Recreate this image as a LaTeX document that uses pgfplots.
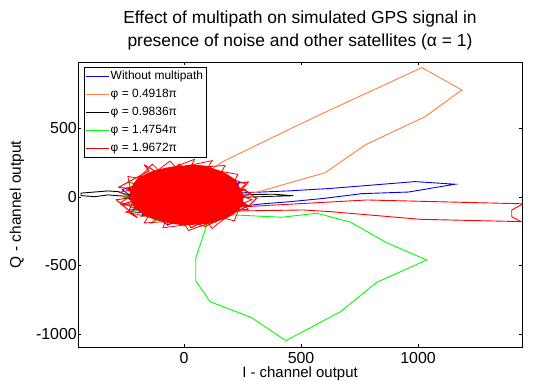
\documentclass[border=0pt]{standalone}
\usepackage{fontspec}
\setmainfont{Liberation Sans}
\usepackage{pgfplots}
\pgfplotsset{compat=1.18}
\definecolor{morange}{RGB}{255,128,64}
\definecolor{mgreen}{RGB}{0,255,0}
\definecolor{mblue}{RGB}{0,0,255}
\definecolor{mred}{RGB}{255,0,0}
\definecolor{mblack}{RGB}{0,0,0}
\begin{document}
\begin{tikzpicture}
\useasboundingbox (-78bp,-34bp) rectangle (455bp,347bp);
\begin{axis}[
 scale only axis, width=444bp, height=285bp,
 xmin=-453, xmax=1444, ymin=-1095, ymax=985,
 xtick={0,500,1000}, ytick={-1000,-500,0,500},
 tick align=inside, major tick length=3bp,
 axis line style={line width=0.9pt},
 tick style={black, line width=0.5pt},
 /pgf/number format/assume math mode=true,
 /pgf/number format/1000 sep={},
 ticklabel style={font=\fontsize{16}{18}\selectfont},
 xticklabel style={inner sep=0pt, yshift=-5.5bp},
 yticklabel style={inner sep=1bp},
 xlabel={I - channel output}, ylabel={Q - channel output},
 label style={font=\fontsize{15.5}{17}\selectfont},
 xlabel style={font=\fontsize{15}{17}\selectfont, at={(axis description cs:0.5,-0.1070)}, anchor=base, inner sep=0pt},
 ylabel style={at={(axis description cs:-0.1374,0.5)}, anchor=center, inner sep=0pt},
 title={Effect of multipath on simulated GPS signal in\\presence of noise and other satellites (α = 1)},
 title style={font=\fontsize{17.5}{23}\selectfont, align=center, at={(axis description cs:0.5,1.021)}, anchor=south, inner sep=0pt},
 legend style={at={(axis description cs:0.0125,0.9825)}, anchor=north west, font=\fontsize{12}{14}\selectfont, draw=black, line width=0.6pt, inner sep=1.5bp, row sep=3bp, nodes={inner sep=1.5bp, text height=9bp, text depth=3bp}},
 legend cell align=left,
 legend image code/.code={\draw[#1] (0bp,0bp) -- (23bp,0bp);},
]
% ---- blue ----
\addplot[draw=mblue, line width=0.8pt, forget plot] coordinates {
(175,134) (-137,182) (-213,-44) (0,-190) (264,-54) (111,147) (-175,134) (-236,-105) (57,-164) (247,0) (71,203) (-191,85) (-175,-134) (137,-182) (213,44) (0,190) (-264,54) (-111,-147) (175,-134) (236,105) (-57,164) (-247,0) (-71,-203) (191,-85)
};
\addplot[draw=mblue, line width=0.9pt] coordinates {
(150,10) (231,29) (444,44) (624,62) (987,112) (1158,93) (959,36) (759,24) (600,-10) (450,-35) (330,-51) (231,-71) (150,-40)
};
\addlegendentry{Without multipath}
% ---- orange ----
\addplot[draw=morange, line width=0.8pt, forget plot] coordinates {
(-187,-145) (207,92) (-269,-56) (265,0) (-230,48) (241,-108) (-187,145) (119,-160) (-72,208) (0,-205) (62,178) (-139,-186) (187,145) (-207,-92) (269,56) (-265,0) (230,-48) (-241,108) (187,-145) (-119,160) (72,-208) (0,205) (-62,-178) (139,186)
};
\addplot[draw=morange, line width=0.9pt] coordinates {
(60,120) (103,182) (162,255) (444,489) (624,635) (1016,944) (1187,781) (1030,586) (774,380) (603,177) (303,31) (200,20)
};
\addlegendentry{φ = 0.4918π}
% ---- black ----
\addplot[draw=mblack, line width=0.8pt, forget plot] coordinates {
(-255,0) (56,-160) (210,93) (-180,138) (-108,-144) (234,-48) (0,195) (-209,-43) (121,-160) (180,138) (-188,83) (-63,-179) (255,0) (-56,160) (-210,-93) (180,-138) (108,144) (-234,48) (0,-195) (209,43) (-121,160) (-180,-138) (188,-83) (63,179)
};
\addplot[draw=mblack, line width=0.9pt] coordinates {
(200,-5) (300,0) (382,5) (467,9) (382,20) (300,18) (200,8) (0,10) (-250,20) (-282,39) (-325,44) (-440,28) (-440,10) (-380,2) (-325,15) (-250,5) (-100,0)
};
\addlegendentry{φ = 0.9836π}
% ---- green ----
\addplot[draw=mgreen, line width=0.8pt, forget plot] coordinates {
(0,215) (-62,-187) (132,186) (-169,-137) (229,107) (-230,-50) (265,0) (-230,50) (229,-107) (-169,137) (132,-186) (-62,187) (0,-215) (62,187) (-132,-186) (169,137) (-229,-107) (230,50) (-265,0) (230,-50) (-229,107) (169,-137) (-132,186) (62,-187)
};
\addplot[draw=mgreen, line width=0.9pt] coordinates {
(60,-120) (97,-204) (50,-447) (50,-611) (111,-764) (289,-881) (435,-1049) (667,-839) (823,-623) (1037,-460) (866,-334) (709,-182) (567,-119) (418,-148) (211,-131) (120,-90)
};
\addlegendentry{φ = 1.4754π}
% ---- red ----
\addplot[draw=mred, fill=mred, line width=1pt, forget plot] coordinates {
(253,2) (245,40) (230,85) (218,124) (195,150) (161,185) (130,200) (104,221) (70,228) (33,234) (0,225) (-38,221) (-75,210) (-110,197) (-150,175) (-195,136) (-215,95) (-228,50) (-231,2) (-222,-40) (-209,-83) (-180,-115) (-153,-144) (-120,-165) (-81,-180) (-40,-195) (4,-204) (50,-198) (104,-192) (140,-175) (175,-156) (205,-130) (232,-95) (248,-50)
} -- cycle;
\addplot[draw=mred, line width=1pt, line join=round, forget plot] coordinates {
(162,0) (261,55) (141,63) (177,138) (81,110) (73,211) (0,127) (-63,185) (-81,110) (-194,152) (-141,63) (-246,52) (-162,0) (-270,-57) (-141,-63) (-177,-138) (-81,-110) (-71,-207) (0,-127) (68,-198) (81,-110) (177,-138) (141,-63) (270,-57) (162,0)
(-280,70) (-150,190) (-170,235) (-110,175) (30,-225) (60,-200) (90,-215) (280,-60) (310,-10) (250,60) (275,110) (-290,-20) (-200,-150) (-230,-120) (-20,240) (10,195)
};
\addplot[draw=mred, line width=0.8pt, forget plot] coordinates {
(253,2) (285,30) (240,60) (265,95) (218,124) (230,165) (161,185) (175,230) (104,221) (120,265) (33,234) (45,275) (-38,221) (-60,262) (-110,197) (-135,240) (-195,136) (-240,150) (-228,50) (-275,35) (-231,2) (-270,-40) (-209,-83) (-250,-110) (-153,-144) (-170,-190) (-81,-180) (-90,-225) (4,-204) (20,-245) (104,-192) (120,-230) (175,-156) (215,-175) (232,-95) (275,-90) (248,-50) (290,-20) (253,2)
};
\addplot[draw=mred, line width=0.9pt] coordinates {
(150,-60) (239,-73) (781,-22) (1450,-50) (1400,-95) (1400,-144) (1440,-180) (1009,-163) (624,-107) (509,-95) (239,-102) (150,-80)
};
\addlegendentry{φ = 1.9672π}
\end{axis}
\end{tikzpicture}
\end{document}
